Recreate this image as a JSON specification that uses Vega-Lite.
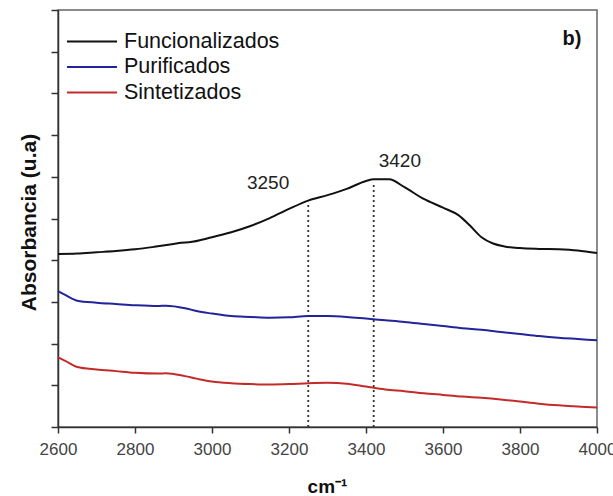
{
  "$schema": "https://vega.github.io/schema/vega-lite/v6.json",
  "width": 539,
  "height": 417,
  "autosize": {"type": "none"},
  "padding": {"left": 58, "top": 10, "right": 16, "bottom": 69},
  "background": "white",
  "config": {
    "font": "Liberation Sans",
    "view": {"stroke": "#666", "strokeWidth": 1.5}
  },
  "datasets": {
    "espectros": [
      {"wn": 2600, "abs": 4.15, "serie": "Funcionalizados"},
      {"wn": 2650, "abs": 4.16, "serie": "Funcionalizados"},
      {"wn": 2700, "abs": 4.19, "serie": "Funcionalizados"},
      {"wn": 2750, "abs": 4.22, "serie": "Funcionalizados"},
      {"wn": 2800, "abs": 4.26, "serie": "Funcionalizados"},
      {"wn": 2850, "abs": 4.32, "serie": "Funcionalizados"},
      {"wn": 2900, "abs": 4.39, "serie": "Funcionalizados"},
      {"wn": 2920, "abs": 4.42, "serie": "Funcionalizados"},
      {"wn": 2940, "abs": 4.43, "serie": "Funcionalizados"},
      {"wn": 3000, "abs": 4.55, "serie": "Funcionalizados"},
      {"wn": 3050, "abs": 4.67, "serie": "Funcionalizados"},
      {"wn": 3100, "abs": 4.82, "serie": "Funcionalizados"},
      {"wn": 3150, "abs": 5.01, "serie": "Funcionalizados"},
      {"wn": 3200, "abs": 5.23, "serie": "Funcionalizados"},
      {"wn": 3250, "abs": 5.43, "serie": "Funcionalizados"},
      {"wn": 3300, "abs": 5.56, "serie": "Funcionalizados"},
      {"wn": 3350, "abs": 5.71, "serie": "Funcionalizados"},
      {"wn": 3400, "abs": 5.9, "serie": "Funcionalizados"},
      {"wn": 3420, "abs": 5.94, "serie": "Funcionalizados"},
      {"wn": 3460, "abs": 5.94, "serie": "Funcionalizados"},
      {"wn": 3500, "abs": 5.75, "serie": "Funcionalizados"},
      {"wn": 3550, "abs": 5.47, "serie": "Funcionalizados"},
      {"wn": 3600, "abs": 5.26, "serie": "Funcionalizados"},
      {"wn": 3640, "abs": 5.08, "serie": "Funcionalizados"},
      {"wn": 3670, "abs": 4.83, "serie": "Funcionalizados"},
      {"wn": 3700, "abs": 4.55, "serie": "Funcionalizados"},
      {"wn": 3730, "abs": 4.4, "serie": "Funcionalizados"},
      {"wn": 3760, "abs": 4.33, "serie": "Funcionalizados"},
      {"wn": 3800, "abs": 4.29, "serie": "Funcionalizados"},
      {"wn": 3850, "abs": 4.27, "serie": "Funcionalizados"},
      {"wn": 3900, "abs": 4.26, "serie": "Funcionalizados"},
      {"wn": 3950, "abs": 4.23, "serie": "Funcionalizados"},
      {"wn": 4000, "abs": 4.17, "serie": "Funcionalizados"},

      {"wn": 2600, "abs": 3.26, "serie": "Purificados"},
      {"wn": 2620, "abs": 3.16, "serie": "Purificados"},
      {"wn": 2650, "abs": 3.03, "serie": "Purificados"},
      {"wn": 2700, "abs": 2.98, "serie": "Purificados"},
      {"wn": 2750, "abs": 2.95, "serie": "Purificados"},
      {"wn": 2800, "abs": 2.92, "serie": "Purificados"},
      {"wn": 2860, "abs": 2.9, "serie": "Purificados"},
      {"wn": 2880, "abs": 2.91, "serie": "Purificados"},
      {"wn": 2930, "abs": 2.85, "serie": "Purificados"},
      {"wn": 2960, "abs": 2.78, "serie": "Purificados"},
      {"wn": 3000, "abs": 2.72, "serie": "Purificados"},
      {"wn": 3050, "abs": 2.66, "serie": "Purificados"},
      {"wn": 3100, "abs": 2.64, "serie": "Purificados"},
      {"wn": 3150, "abs": 2.62, "serie": "Purificados"},
      {"wn": 3200, "abs": 2.63, "serie": "Purificados"},
      {"wn": 3250, "abs": 2.66, "serie": "Purificados"},
      {"wn": 3300, "abs": 2.66, "serie": "Purificados"},
      {"wn": 3350, "abs": 2.64, "serie": "Purificados"},
      {"wn": 3400, "abs": 2.6, "serie": "Purificados"},
      {"wn": 3450, "abs": 2.56, "serie": "Purificados"},
      {"wn": 3500, "abs": 2.52, "serie": "Purificados"},
      {"wn": 3550, "abs": 2.47, "serie": "Purificados"},
      {"wn": 3600, "abs": 2.42, "serie": "Purificados"},
      {"wn": 3650, "abs": 2.37, "serie": "Purificados"},
      {"wn": 3700, "abs": 2.33, "serie": "Purificados"},
      {"wn": 3750, "abs": 2.28, "serie": "Purificados"},
      {"wn": 3800, "abs": 2.23, "serie": "Purificados"},
      {"wn": 3850, "abs": 2.18, "serie": "Purificados"},
      {"wn": 3900, "abs": 2.14, "serie": "Purificados"},
      {"wn": 3950, "abs": 2.11, "serie": "Purificados"},
      {"wn": 4000, "abs": 2.08, "serie": "Purificados"},

      {"wn": 2600, "abs": 1.67, "serie": "Sintetizados"},
      {"wn": 2620, "abs": 1.58, "serie": "Sintetizados"},
      {"wn": 2650, "abs": 1.44, "serie": "Sintetizados"},
      {"wn": 2700, "abs": 1.38, "serie": "Sintetizados"},
      {"wn": 2750, "abs": 1.34, "serie": "Sintetizados"},
      {"wn": 2800, "abs": 1.3, "serie": "Sintetizados"},
      {"wn": 2860, "abs": 1.28, "serie": "Sintetizados"},
      {"wn": 2880, "abs": 1.29, "serie": "Sintetizados"},
      {"wn": 2930, "abs": 1.22, "serie": "Sintetizados"},
      {"wn": 2960, "abs": 1.16, "serie": "Sintetizados"},
      {"wn": 3000, "abs": 1.09, "serie": "Sintetizados"},
      {"wn": 3050, "abs": 1.05, "serie": "Sintetizados"},
      {"wn": 3100, "abs": 1.03, "serie": "Sintetizados"},
      {"wn": 3150, "abs": 1.02, "serie": "Sintetizados"},
      {"wn": 3200, "abs": 1.03, "serie": "Sintetizados"},
      {"wn": 3250, "abs": 1.05, "serie": "Sintetizados"},
      {"wn": 3300, "abs": 1.06, "serie": "Sintetizados"},
      {"wn": 3350, "abs": 1.04, "serie": "Sintetizados"},
      {"wn": 3400, "abs": 0.97, "serie": "Sintetizados"},
      {"wn": 3450, "abs": 0.9, "serie": "Sintetizados"},
      {"wn": 3500, "abs": 0.86, "serie": "Sintetizados"},
      {"wn": 3550, "abs": 0.81, "serie": "Sintetizados"},
      {"wn": 3600, "abs": 0.77, "serie": "Sintetizados"},
      {"wn": 3650, "abs": 0.73, "serie": "Sintetizados"},
      {"wn": 3700, "abs": 0.7, "serie": "Sintetizados"},
      {"wn": 3750, "abs": 0.66, "serie": "Sintetizados"},
      {"wn": 3800, "abs": 0.61, "serie": "Sintetizados"},
      {"wn": 3850, "abs": 0.56, "serie": "Sintetizados"},
      {"wn": 3900, "abs": 0.52, "serie": "Sintetizados"},
      {"wn": 3950, "abs": 0.49, "serie": "Sintetizados"},
      {"wn": 4000, "abs": 0.47, "serie": "Sintetizados"}
    ],
    "picos": [
      {"wn": 3250, "base": 0, "tope": 5.35, "etiqueta": "3250"},
      {"wn": 3420, "base": 0, "tope": 5.85, "etiqueta": "3420"}
    ],
    "panel": [
      {"wn": 3935, "abs": 9.3, "texto": "b)"}
    ]
  },
  "layer": [
    {
      "data": {"name": "picos"},
      "mark": {"type": "rule", "color": "#333", "strokeWidth": 1.8, "strokeDash": [2, 3]},
      "encoding": {
        "x": {"field": "wn", "type": "quantitative"},
        "y": {"field": "base", "type": "quantitative"},
        "y2": {"field": "tope"}
      }
    },
    {
      "data": {"name": "espectros"},
      "mark": {"type": "line", "strokeWidth": 2, "interpolate": "monotone"},
      "encoding": {
        "x": {
          "field": "wn",
          "type": "quantitative",
          "scale": {"domain": [2600, 4000], "nice": false, "zero": false},
          "axis": {
            "title": "cm⁻¹",
            "titleFont": "Liberation Sans",
            "titleFontSize": 19,
            "titleFontWeight": "bold",
            "titleColor": "#111",
            "titleX": 269,
            "titleY": 65,
            "titleBaseline": "alphabetic",
            "values": [2600, 2700, 2800, 2900, 3000, 3100, 3200, 3300, 3400, 3500, 3600, 3700, 3800, 3900, 4000],
            "labelExpr": "datum.value % 200 === 0 ? datum.label : ''",
            "format": "d",
            "labelFontSize": 17,
            "labelColor": "#444",
            "labelPadding": 8,
            "labelOverlap": false,
            "labelFlush": false,
            "domainColor": "#333",
            "domainWidth": 1.5,
            "tickColor": "#333",
            "tickWidth": 1.5,
            "tickSize": {"condition": {"test": "datum.value % 200 === 0", "value": 6}, "value": 4},
            "grid": false
          }
        },
        "y": {
          "field": "abs",
          "type": "quantitative",
          "scale": {"domain": [0, 10], "nice": false},
          "axis": {
            "title": "Absorbancia (u.a)",
            "titleFont": "Liberation Sans",
            "titleFontSize": 21,
            "titleFontWeight": "bold",
            "titleColor": "#111",
            "titleAngle": -90,
            "titleX": -29,
            "titleY": 212,
            "titleAlign": "center",
            "titleBaseline": "middle",
            "values": [0, 0.5, 1, 1.5, 2, 2.5, 3, 3.5, 4, 4.5, 5, 5.5, 6, 6.5, 7, 7.5, 8, 8.5, 9, 9.5, 10],
            "labels": false,
            "domainColor": "#333",
            "domainWidth": 1.5,
            "tickColor": "#333",
            "tickWidth": 1.5,
            "tickSize": {"condition": {"test": "datum.value % 1 === 0", "value": 7}, "value": 4},
            "grid": false
          }
        },
        "color": {
          "field": "serie",
          "type": "nominal",
          "scale": {
            "domain": ["Funcionalizados", "Purificados", "Sintetizados"],
            "range": ["#111111", "#23239a", "#c42a2a"]
          },
          "legend": {
            "title": null,
            "orient": "none",
            "legendX": 8,
            "legendY": 21,
            "padding": 0,
            "symbolType": "stroke",
            "symbolSize": 2500,
            "symbolStrokeWidth": 2,
            "clipHeight": 21,
            "labelFont": "Liberation Sans",
            "labelFontSize": 21.5,
            "labelColor": "#111",
            "labelOffset": 6,
            "rowPadding": 3.5
          }
        }
      }
    },
    {
      "data": {"name": "picos"},
      "transform": [{"filter": "datum.etiqueta === '3250'"}],
      "mark": {"type": "text", "align": "right", "baseline": "alphabetic", "dx": -19, "dy": -15, "fontSize": 19, "color": "#222"},
      "encoding": {
        "x": {"field": "wn", "type": "quantitative"},
        "y": {"field": "tope", "type": "quantitative"},
        "text": {"field": "etiqueta"}
      }
    },
    {
      "data": {"name": "picos"},
      "transform": [{"filter": "datum.etiqueta === '3420'"}],
      "mark": {"type": "text", "align": "left", "baseline": "alphabetic", "dx": 5, "dy": -16, "fontSize": 19, "color": "#222"},
      "encoding": {
        "x": {"field": "wn", "type": "quantitative"},
        "y": {"field": "tope", "type": "quantitative"},
        "text": {"field": "etiqueta"}
      }
    },
    {
      "data": {"name": "panel"},
      "mark": {"type": "text", "align": "center", "baseline": "middle", "fontSize": 20, "fontWeight": "bold", "color": "#111"},
      "encoding": {
        "x": {"field": "wn", "type": "quantitative"},
        "y": {"field": "abs", "type": "quantitative"},
        "text": {"field": "texto"}
      }
    }
  ]
}
